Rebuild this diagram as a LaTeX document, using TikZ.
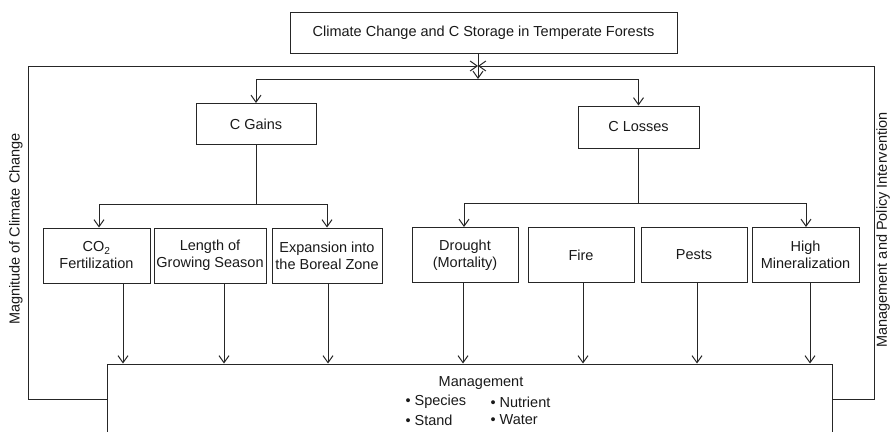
\documentclass[tikz,border=0pt]{standalone}
\usepackage{fontspec}
\setmainfont{Liberation Sans}
\usetikzlibrary{arrows.meta}
\begin{document}
\begin{tikzpicture}[x=1pt,y=-1pt,
  font=\fontsize{14.5}{17}\selectfont,
  line width=1pt, color=black!85,
  box/.style={draw, inner sep=0pt, align=center, text=black!90},
  arr/.style={-{Straight Barb[length=7pt,width=10pt]}},
  lbl/.style={inner sep=0pt, text=black!90}]
\useasboundingbox (0,0) rectangle (894,431);
\clip (0,0) rectangle (894,431);
% boxes (centre, width, height from pixel corners)
\node[box, minimum width=387pt, minimum height=41pt] (top) at (483.5,32.5) {Climate Change and C Storage in Temperate Forests};
\node[box, minimum width=120pt, minimum height=41pt] (gains) at (256,124) {C Gains};
\node[box, minimum width=121pt, minimum height=42pt] (losses) at (638.5,127) {C Losses};
\node[box, minimum width=107pt, minimum height=55pt] (co2) at (96.5,255.5) {CO\textsubscript{2}\\Fertilization};
\node[box, minimum width=112pt, minimum height=55pt] (len) at (210,255.5) {Length of\\Growing Season};
\node[box, minimum width=110pt, minimum height=55pt] (exp) at (327,255.5) {Expansion into\\the Boreal Zone};
\node[box, minimum width=106pt, minimum height=55pt] (dro) at (465,255) {Drought\\(Mortality)};
\node[box, minimum width=106pt, minimum height=55pt] (fire) at (581,255) {Fire};
\node[box, minimum width=106pt, minimum height=55pt] (pests) at (694,255) {Pests};
\node[box, minimum width=107pt, minimum height=55pt] (high) at (805.5,255) {High\\Mineralization};
\node[box, minimum width=725pt, minimum height=106pt] (mgmt) at (469.5,417) {};
% management text
\node[lbl] (mtitle) at (481,383) {Management};
\node[lbl, anchor=west] (species) at (405,402) {• Species};
\node[lbl, anchor=west] (stand) at (405,420) {• Stand};
\node[lbl, anchor=west] (nutrient) at (490,402) {• Nutrient};
\node[lbl, anchor=west] (water) at (490,420) {• Water};
% side labels
\node[lbl, rotate=90] (magn) at (16,229) {Magnitude of Climate Change};
\node[lbl, rotate=90] (policy) at (883,230) {Management and Policy Intervention};
% coordinates
\coordinate (meet) at (478,66);
\coordinate (split) at (478,79);
\coordinate (gsplit) at (256,204);
\coordinate (lsplit) at (638.5,203);
% top split
\draw[arr] (478,0 |- top.south) -- (split);
\draw[arr] (split) -| (gains.north);
\draw[arr] (split) -| (losses.north);
% gains branch
\draw (gains.south) -- (gsplit);
\draw[arr] (gsplit) -| (99,0 |- co2.north);
\draw[arr] (gsplit) -| (327,0 |- exp.north);
% losses branch
\draw (losses.south) -- (lsplit);
\draw[arr] (lsplit) -| (464,0 |- dro.north);
\draw[arr] (lsplit) -| (806,0 |- high.north);
% arrows into management
\draw[arr] (123,0 |- co2.south) -- (123,0 |- mgmt.north);
\draw[arr] (224,0 |- len.south) -- (224,0 |- mgmt.north);
\draw[arr] (328,0 |- exp.south) -- (328,0 |- mgmt.north);
\draw[arr] (463,0 |- dro.south) -- (463,0 |- mgmt.north);
\draw[arr] (583,0 |- fire.south) -- (583,0 |- mgmt.north);
\draw[arr] (697,0 |- pests.south) -- (697,0 |- mgmt.north);
\draw[arr] (810,0 |- high.south) -- (810,0 |- mgmt.north);
% feedback frame
\draw[arr] (mgmt.north west |- 0,399) -- (28,399) -- (28,66) -- (meet);
\draw[arr] (mgmt.north east |- 0,399) -- (874,399) -- (874,66) -- (meet);
\end{tikzpicture}
\end{document}
